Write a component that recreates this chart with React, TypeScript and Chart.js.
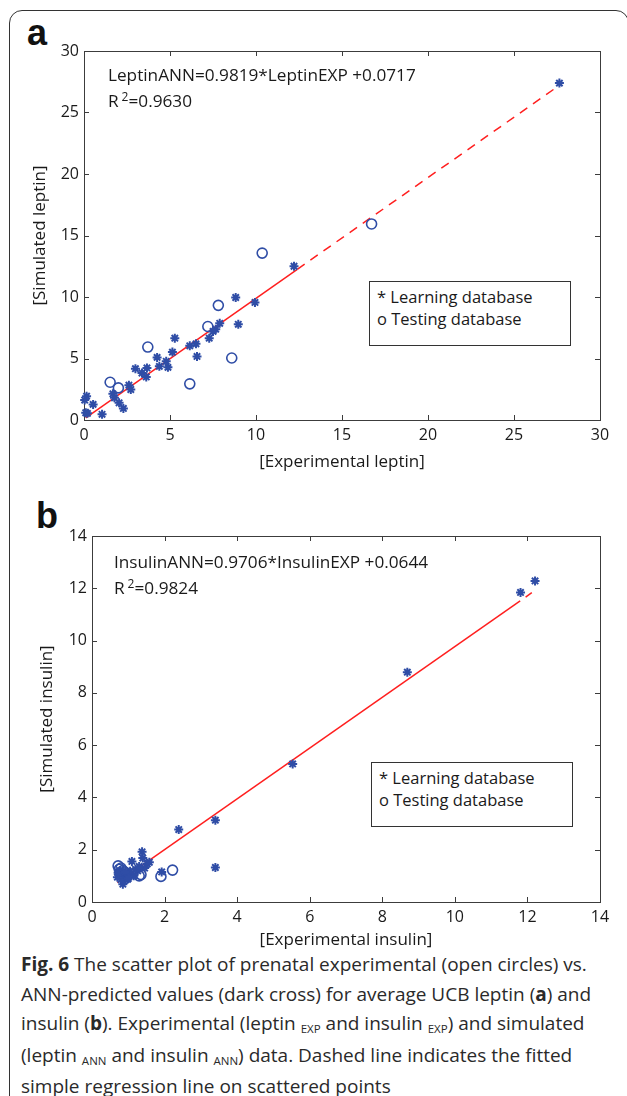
import React, { useEffect, useRef } from 'react';
import { Chart, registerables } from 'chart.js';

Chart.register(...registerables);

// ---------- Panel a: leptin ----------
const leptinLearnX = [27.64, 12.21, 8.82, 9.94, 8.97, 7.89, 7.66, 7.5, 7.28, 6.57, 6.51, 6.15, 5.28, 5.14, 4.78, 4.88, 4.25, 4.38, 3.66, 3.62, 3.37, 2.99, 2.61, 2.72, 1.68, 1.77, 2.04, 2.29, 1.05, 0.53, 0.15, 0.04, 0.1, 0.2];
const leptinLearnY = [27.39, 12.5, 9.96, 9.56, 7.78, 7.86, 7.38, 7.2, 6.65, 5.17, 6.19, 6.03, 6.65, 5.52, 4.77, 4.28, 5.09, 4.36, 4.23, 3.5, 3.82, 4.17, 2.83, 2.48, 2.13, 1.8, 1.4, 0.94, 0.46, 1.27, 1.94, 1.62, 0.59, 0.54];
const leptinTestX = [16.72, 10.36, 7.81, 7.2, 3.71, 8.59, 6.15, 1.52, 2.0];
const leptinTestY = [15.94, 13.57, 9.32, 7.6, 5.93, 5.04, 2.94, 3.07, 2.61];
const leptinFitSolidX = [0.1, 12.4];
const leptinFitSolidY = [0.17, 12.25];
const leptinFitDashX = [12.4, 27.6];
const leptinFitDashY = [12.25, 27.17];
const leptinTicks = [0, 5, 10, 15, 20, 25, 30];

// ---------- Panel b: insulin ----------
const insulinLearnX = [12.21, 11.81, 8.69, 5.53, 3.4, 3.4, 2.39, 1.92, 1.1, 1.38, 1.4, 1.45, 1.52, 1.58, 1.26, 1.2, 1.3, 1.15, 1.05, 0.98, 0.95, 0.9, 0.88, 0.85, 0.82, 0.8, 0.78, 0.75, 0.7, 0.72, 0.92, 1.0];
const insulinLearnY = [12.28, 11.84, 8.79, 5.28, 3.13, 1.32, 2.77, 1.15, 1.55, 1.92, 1.68, 1.3, 1.45, 1.52, 1.19, 1.25, 1.36, 1.0, 1.18, 0.87, 1.05, 0.98, 0.8, 0.68, 1.1, 0.86, 1.2, 1.05, 0.95, 1.12, 1.15, 0.9];
const insulinTestX = [0.72, 0.75, 0.78, 0.8, 0.85, 0.9, 1.3, 1.35, 1.9, 2.22];
const insulinTestY = [1.38, 1.25, 1.1, 1.3, 1.2, 1.15, 1.0, 1.05, 0.98, 1.22];
const insulinFitSolidX = [0.7, 11.8];
const insulinFitSolidY = [0.74, 11.52];
const insulinFitDashX = [11.95, 12.12];
const insulinFitDashY = [11.66, 11.83];
const insulinTicks = [0, 2, 4, 6, 8, 10, 12, 14];

const FONT = '"Open Sans", "Noto Sans", sans-serif';
const MARK = '#2f4da6';
const FIT = '#ff1f1f';
const INK = '#1a1a1a';

const pts = (xs: number[], ys: number[]) => xs.map((x, i) => ({ x, y: ys[i] }));

const framePlugin = {
  id: 'matlabFrame',
  beforeDatasetsDraw(chart: any) {
    const { ctx, chartArea } = chart;
    const { left, right, top, bottom } = chartArea;
    const xs = chart.scales.x;
    const ys = chart.scales.y;
    ctx.save();
    ctx.strokeStyle = '#3c3c3c';
    ctx.lineWidth = 1;
    ctx.strokeRect(Math.round(left) + 0.5, Math.round(top) + 0.5, Math.round(right - left), Math.round(bottom - top));
    const len = 5;
    ctx.beginPath();
    xs.ticks.forEach((t: any) => {
      const px = Math.round(xs.getPixelForValue(t.value)) + 0.5;
      ctx.moveTo(px, bottom);
      ctx.lineTo(px, bottom - len);
      ctx.moveTo(px, top);
      ctx.lineTo(px, top + len);
    });
    ys.ticks.forEach((t: any) => {
      const py = Math.round(ys.getPixelForValue(t.value)) + 0.5;
      ctx.moveTo(left, py);
      ctx.lineTo(left + len, py);
      ctx.moveTo(right, py);
      ctx.lineTo(right - len, py);
    });
    ctx.stroke();
    ctx.restore();
  },
};

type PanelProps = {
  top: number;
  height: number;
  area: { left: number; right: number; top: number; bottom: number };
  learnX: number[];
  learnY: number[];
  testX: number[];
  testY: number[];
  solidX: number[];
  solidY: number[];
  dashX: number[];
  dashY: number[];
  ticks: number[];
  xTitle: string;
  yTitle: string;
  xTitlePad: number;
  yTitlePad: number;
};

function ScatterPanel(p: PanelProps) {
  const ref = useRef<HTMLCanvasElement | null>(null);
  useEffect(() => {
    if (!ref.current) return;
    const width = 627;
    const max = p.ticks[p.ticks.length - 1];
    const tickFont = { family: FONT, size: 16 };
    const chart = new Chart(ref.current, {
      type: 'scatter',
      data: {
        datasets: [
          {
            label: 'Learning database',
            data: pts(p.learnX, p.learnY),
            pointStyle: 'star',
            radius: 4.5,
            borderColor: MARK,
            backgroundColor: MARK,
            borderWidth: 2,
            clip: false,
          } as any,
          {
            label: 'Testing database',
            data: pts(p.testX, p.testY),
            pointStyle: 'circle',
            radius: 5,
            borderColor: MARK,
            backgroundColor: 'rgba(0,0,0,0)',
            borderWidth: 1.6,
            clip: false,
          } as any,
          {
            type: 'line',
            label: 'fit',
            data: pts(p.solidX, p.solidY),
            borderColor: FIT,
            borderWidth: 1.5,
            pointRadius: 0,
            showLine: true,
            fill: false,
          } as any,
          {
            type: 'line',
            label: 'fit dashed',
            data: pts(p.dashX, p.dashY),
            borderColor: FIT,
            borderWidth: 1.5,
            borderDash: [9, 7],
            pointRadius: 0,
            showLine: true,
            fill: false,
          } as any,
        ],
      },
      options: {
        animation: false,
        responsive: false,
        maintainAspectRatio: false,
        events: [],
        layout: {
          padding: { top: p.area.top, right: width - p.area.right, left: 0, bottom: 0 },
        },
        plugins: { legend: { display: false }, tooltip: { enabled: false } },
        scales: {
          x: {
            type: 'linear',
            min: 0,
            max,
            afterBuildTicks: (s: any) => {
              s.ticks = p.ticks.map((v) => ({ value: v }));
            },
            afterFit: (s: any) => {
              s.height = p.height - p.area.bottom;
            },
            grid: { display: false, drawTicks: false },
            border: { display: false },
            ticks: { padding: 6, font: tickFont, color: INK, maxRotation: 0, autoSkip: false },
            title: {
              display: true,
              text: p.xTitle,
              font: { family: FONT, size: 17 },
              color: INK,
              padding: { top: 0, bottom: p.xTitlePad },
            },
          },
          y: {
            type: 'linear',
            min: 0,
            max,
            afterBuildTicks: (s: any) => {
              s.ticks = p.ticks.map((v) => ({ value: v }));
            },
            afterFit: (s: any) => {
              s.width = p.area.left;
            },
            grid: { display: false, drawTicks: false },
            border: { display: false },
            ticks: { padding: 5, font: tickFont, color: INK, autoSkip: false },
            title: {
              display: true,
              text: p.yTitle,
              font: { family: FONT, size: 17 },
              color: INK,
              padding: { top: p.yTitlePad, bottom: 0 },
            },
          },
        },
      } as any,
      plugins: [framePlugin],
    });
    return () => chart.destroy();
  }, []);
  return (
    <canvas
      ref={ref}
      width={627}
      height={p.height}
      style={{ position: 'absolute', left: 0, top: p.top, width: 627, height: p.height }}
    />
  );
}

const textStyle: React.CSSProperties = {
  position: 'absolute',
  fontFamily: FONT,
  fontSize: 17.2,
  lineHeight: '20px',
  color: INK,
  whiteSpace: 'nowrap',
};

function Equation({ left, top, main, r2 }: { left: number; top: number; main: string; r2: string }) {
  return (
    <>
      <div style={{ ...textStyle, left, top }}>{main}</div>
      <div style={{ ...textStyle, left, top: top + 26 }}>
        R<sup style={{ fontSize: 12, verticalAlign: 'top', position: 'relative', top: -4, marginLeft: 3 }}>2</sup>={r2}
      </div>
    </>
  );
}

function LegendBox({ left, top }: { left: number; top: number }) {
  return (
    <div
      style={{
        position: 'absolute',
        left,
        top,
        width: 202,
        height: 65,
        boxSizing: 'border-box',
        border: '1px solid #333',
        background: '#fff',
        padding: '4px 0 0 7px',
        fontFamily: FONT,
        fontSize: 16.5,
        lineHeight: '22px',
        color: INK,
        whiteSpace: 'nowrap',
      }}
    >
      <div>* Learning database</div>
      <div>o Testing database</div>
    </div>
  );
}

export default function App() {
  const capStyle: React.CSSProperties = {
    position: 'absolute',
    left: 21,
    top: 950,
    fontFamily: FONT,
    fontSize: 19,
    lineHeight: '29.5px',
    color: '#2a2a2a',
    whiteSpace: 'nowrap',
  };
  const sub: React.CSSProperties = { fontSize: 11.5, verticalAlign: 'baseline', position: 'relative', top: 3 };
  return (
    <div style={{ position: 'absolute', left: 0, top: 0, width: 627, height: 1096, overflow: 'hidden', background: '#fff' }}>
      <div
        style={{
          position: 'absolute',
          left: 9,
          top: 10,
          width: 620,
          height: 1100,
          boxSizing: 'border-box',
          border: '1.5px solid #333',
          borderRadius: 13,
        }}
      />
      <div style={{ position: 'absolute', left: 27, top: 13, fontFamily: '"Liberation Sans", Arial, sans-serif', fontWeight: 'bold', fontSize: 36, lineHeight: '40px', color: '#111' }}>a</div>
      <div style={{ position: 'absolute', left: 36, top: 496, fontFamily: '"Liberation Sans", Arial, sans-serif', fontWeight: 'bold', fontSize: 36, lineHeight: '40px', color: '#111' }}>b</div>

      <ScatterPanel
        top={0}
        height={480}
        area={{ left: 84, right: 600, top: 51, bottom: 420 }}
        learnX={leptinLearnX}
        learnY={leptinLearnY}
        testX={leptinTestX}
        testY={leptinTestY}
        solidX={leptinFitSolidX}
        solidY={leptinFitSolidY}
        dashX={leptinFitDashX}
        dashY={leptinFitDashY}
        ticks={leptinTicks}
        xTitle="[Experimental leptin]"
        yTitle="[Simulated leptin]"
        xTitlePad={8}
        yTitlePad={30}
      />
      <ScatterPanel
        top={480}
        height={470}
        area={{ left: 92, right: 600, top: 56, bottom: 422 }}
        learnX={insulinLearnX}
        learnY={insulinLearnY}
        testX={insulinTestX}
        testY={insulinTestY}
        solidX={insulinFitSolidX}
        solidY={insulinFitSolidY}
        dashX={insulinFitDashX}
        dashY={insulinFitDashY}
        ticks={insulinTicks}
        xTitle="[Experimental insulin]"
        yTitle="[Simulated insulin]"
        xTitlePad={0}
        yTitlePad={37}
      />

      <Equation left={108} top={65} main="LeptinANN=0.9819*LeptinEXP +0.0717" r2="0.9630" />
      <LegendBox left={369} top={281} />
      <Equation left={114} top={552} main="InsulinANN=0.9706*InsulinEXP +0.0644" r2="0.9824" />
      <LegendBox left={371} top={762} />

      <div style={capStyle}>
        <div><b>Fig. 6</b> The scatter plot of prenatal experimental (open circles) vs.</div>
        <div>ANN-predicted values (dark cross) for average UCB leptin (<b>a</b>) and</div>
        <div>insulin (<b>b</b>). Experimental (leptin <span style={sub}>EXP</span> and insulin <span style={sub}>EXP</span>) and simulated</div>
        <div>(leptin <span style={sub}>ANN</span> and insulin <span style={sub}>ANN</span>) data. Dashed line indicates the fitted</div>
        <div>simple regression line on scattered points</div>
      </div>
    </div>
  );
}
